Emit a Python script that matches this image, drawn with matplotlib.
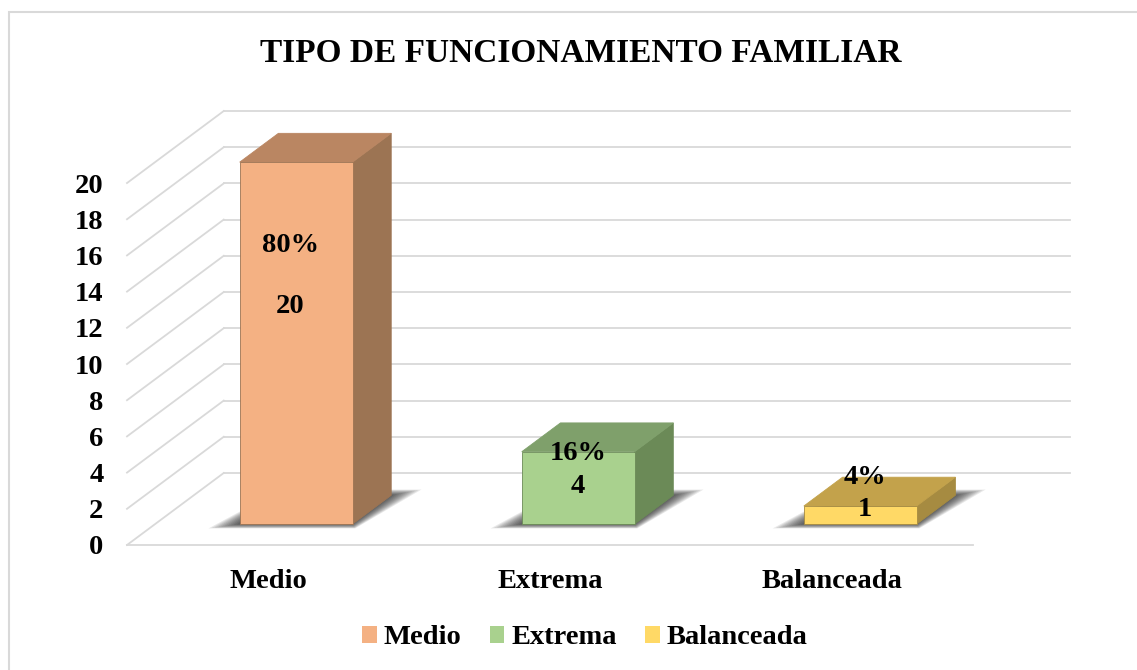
import matplotlib
matplotlib.use("Agg")
import matplotlib.pyplot as plt
from matplotlib.patches import Polygon, Patch, Rectangle

plt.rcParams['font.family'] = ['Liberation Serif', 'DejaVu Serif']
plt.rcParams['font.weight'] = 'bold'

# Data
categories = ['Medio', 'Extrema', 'Balanceada']
counts = [20, 4, 1]
percents = ['80%', '16%', '4%']
yticks = list(range(0, 21, 2))

# Colours (front, top, side)
front_colors = ['#F4B183', '#A9D18E', '#FFD966']
top_colors = ['#BA8662', '#7FA06B', '#C3A24B']
side_colors = ['#9C7453', '#6B8A57', '#A68B41']

# pseudo-3D geometry (depth vector in data units)
DX, DY = 0.343, 3.98
D0, D1 = 0.29, 0.69      # bar depth range (fraction of floor depth)
BW = 0.4                 # bar width

# label heights above the bar base (value units)
pct_off = [15.4, 3.9, 2.55]
val_off = [12.0, 2.1, 0.78]
lab_dx = [-0.02, 0.0, 0.015]

FS = 20.5


def P(x, y, d):
    return (x + d * DX, y + d * DY)


fig = plt.figure(figsize=(11.37, 6.70), dpi=100)
ax = fig.add_axes([127 / 1137, 1 - 545 / 670, 943 / 1137, 434 / 670])
ax.set_xlim(-0.5, 2.5 + DX)
ax.set_ylim(0, 20 + DY)
for s in ax.spines.values():
    s.set_visible(False)

# outer frame
fig.patches.append(Rectangle((9 / 1137, -0.1), 1.2, 1 - 12 / 670 + 0.1,
                             transform=fig.transFigure, fill=False,
                             edgecolor='#D9D9D9', lw=1.5))

grid_kw = dict(color='#D9D9D9', lw=1.3, zorder=0, clip_on=False)
for v in yticks:
    a, b = P(-0.5, v, 1), P(2.5, v, 1)
    ax.plot([a[0], b[0]], [a[1], b[1]], **grid_kw)
    c = P(-0.5, v, 0)
    ax.plot([c[0], a[0]], [c[1], a[1]], **grid_kw)
ax.plot([-0.5, 2.5], [0, 0], **grid_kw)

for i, v in enumerate(counts):
    x0, x1 = i - BW / 2, i + BW / 2
    # soft shadow on the floor (stacked translucent footprints)
    n = 10
    for k in range(n):
        e = (n - k) / n
        poly = [P(x0 - 0.09 * e, 0, D0 - 0.06 * e), P(x1 + 0.03 * e, 0, D0 - 0.06 * e),
                P(x1 + 0.08 * e, 0, D1 + 0.08 * e), P(x0 - 0.02 * e, 0, D1 + 0.08 * e)]
        ax.add_patch(Polygon(poly, closed=True, facecolor='black', edgecolor='none',
                             alpha=0.085, zorder=1, clip_on=False))
    side = [P(x1, 0, D0), P(x1, 0, D1), P(x1, v, D1), P(x1, v, D0)]
    top = [P(x0, v, D0), P(x1, v, D0), P(x1, v, D1), P(x0, v, D1)]
    front = [P(x0, 0, D0), P(x1, 0, D0), P(x1, v, D0), P(x0, v, D0)]
    ax.add_patch(Polygon(side, closed=True, facecolor=side_colors[i],
                         edgecolor=side_colors[i], lw=0.6, zorder=2, clip_on=False))
    ax.add_patch(Polygon(top, closed=True, facecolor=top_colors[i],
                         edgecolor=top_colors[i], lw=0.6, zorder=2, clip_on=False))
    ax.add_patch(Polygon(front, closed=True, facecolor=front_colors[i],
                         edgecolor=side_colors[i], lw=0.6, zorder=3, clip_on=False))
    cx, by = P(i, 0, D0)
    ax.text(cx + lab_dx[i], by + pct_off[i], percents[i], ha='center', va='center',
            fontsize=FS, fontweight='bold', zorder=5)
    ax.text(cx + lab_dx[i], by + val_off[i], str(v), ha='center', va='center',
            fontsize=FS, fontweight='bold', zorder=5)

ax.set_yticks(yticks)
ax.set_yticklabels([str(t) for t in yticks], fontsize=FS, fontweight='bold')
ax.set_xticks(range(len(categories)))
ax.set_xticklabels(categories, fontsize=FS, fontweight='bold')
ax.tick_params(axis='y', length=0, pad=17)
ax.tick_params(axis='x', length=0, pad=17)

fig.text(581 / 1137, 1 - 53 / 670, 'TIPO DE FUNCIONAMIENTO FAMILIAR',
         ha='center', va='center', fontsize=24, fontweight='bold')

handles = [Patch(facecolor=c, edgecolor='none') for c in front_colors]
fig.legend(handles, categories, loc='center', bbox_to_anchor=(585 / 1137, 1 - 638 / 670),
           ncol=3, frameon=False, handlelength=0.5, handleheight=0.5,
           handletextpad=0.25, columnspacing=1.0, prop={'weight': 'bold', 'size': FS})

fig.savefig('out.png', dpi=100)
